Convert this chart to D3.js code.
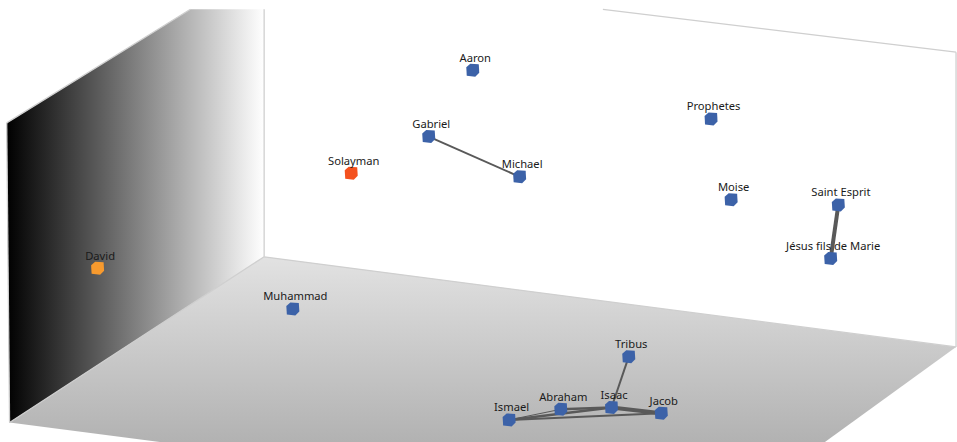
<!DOCTYPE html>
<html>
<head>
<meta charset="utf-8">
<script src="https://cdn.jsdelivr.net/npm/d3@7"></script>
<style>
  html, body { margin: 0; padding: 0; background: #fff; }
  svg { display: block; }
</style>
</head>
<body>
<div id="chart"></div>
<script>
const names = ['Aaron', 'Prophetes', 'Gabriel', 'Michael', 'Solayman', 'Moise', 'Saint Esprit', 'Jésus fils de Marie', 'David', 'Muhammad', 'Tribus', 'Isaac', 'Jacob', 'Abraham', 'Ismael'];
const posX = [49.4, 74.3, 44.8, 54.3, 36.7, 76.4, 87.6, 86.8, 10.2, 30.6, 65.7, 63.9, 69.1, 58.6, 53.2];
const posY = [15.9, 26.9, 30.9, 40.0, 39.2, 45.2, 46.4, 58.5, 60.7, 69.9, 80.7, 92.2, 93.5, 92.6, 95.0];
const nodeColors = ['#3c62a8', '#3c62a8', '#3c62a8', '#3c62a8', '#f4511e', '#3c62a8', '#3c62a8', '#3c62a8', '#f79a2e', '#3c62a8', '#3c62a8', '#3c62a8', '#3c62a8', '#3c62a8', '#3c62a8'];

const linkSource = ['Gabriel', 'Saint Esprit', 'Tribus', 'Isaac', 'Ismael', 'Ismael', 'Ismael', 'Abraham'];
const linkTarget = ['Michael', 'Jésus fils de Marie', 'Isaac', 'Jacob', 'Jacob', 'Abraham', 'Isaac', 'Isaac'];
const linkWeight = [2, 4, 2, 4, 2, 1, 2.5, 2.5];

// room corners, same percent units
const wallLeftX = [0.7, 19.9, 27.6, 27.6, 1.0];
const wallLeftY = [27.8, 2.1, 2.1, 58.1, 95.6];
const wallBackX = [27.6, 63.0, 99.9, 99.9, 27.6];
const wallBackY = [2.1, 2.1, 11.8, 78.5, 58.1];
const floorX = [27.6, 99.9, 86.2, 16.7, 1.0];
const floorY = [58.1, 78.5, 100, 100, 95.6];

const width = 957;
const height = 442;

const x = d3.scaleLinear().domain([0, 100]).range([0, width]);
const y = d3.scaleLinear().domain([0, 100]).range([0, height]);

const svg = d3.select('#chart')
  .append('svg')
  .attr('width', width)
  .attr('height', height);

const defs = svg.append('defs');

const leftGrad = defs.append('linearGradient')
  .attr('id', 'leftGrad')
  .attr('x1', 0).attr('y1', 0).attr('x2', 1).attr('y2', 0);
leftGrad.append('stop').attr('offset', '0%').attr('stop-color', '#000');
leftGrad.append('stop').attr('offset', '100%').attr('stop-color', '#fff');

const floorGrad = defs.append('linearGradient')
  .attr('id', 'floorGrad')
  .attr('x1', 0).attr('y1', 0).attr('x2', 0).attr('y2', 1);
floorGrad.append('stop').attr('offset', '0%').attr('stop-color', '#e2e2e2');
floorGrad.append('stop').attr('offset', '100%').attr('stop-color', '#b2b2b2');

const outline = d3.line().x(d => x(d[0])).y(d => y(d[1]));
const closed = (xs, ys) => outline(xs.map((v, i) => [v, ys[i]])) + 'Z';

// walls
svg.append('path')
  .attr('d', closed(wallBackX, wallBackY))
  .attr('fill', '#fff');
svg.append('path')
  .attr('d', closed(floorX, floorY))
  .attr('fill', 'url(#floorGrad)');
svg.append('path')
  .attr('d', closed(wallLeftX, wallLeftY))
  .attr('fill', 'url(#leftGrad)');

// grey room edges, the clipped top and bottom stay without a line
const edges = [
  [[wallLeftX[0], wallLeftY[0]], [wallLeftX[1], wallLeftY[1]]],
  [[wallLeftX[0], wallLeftY[0]], [wallLeftX[4], wallLeftY[4]]],
  [[wallBackX[0], wallBackY[0]], [wallBackX[4], wallBackY[4]]],
  [[wallBackX[1], wallBackY[1]], [wallBackX[2], wallBackY[2]]],
  [[wallBackX[2], wallBackY[2]], [wallBackX[3], wallBackY[3]]],
  [[floorX[0], floorY[0]], [floorX[1], floorY[1]]],
  [[floorX[0], floorY[0]], [floorX[4], floorY[4]]]
];
svg.append('g')
  .selectAll('path')
  .data(edges)
  .enter()
  .append('path')
  .attr('d', outline)
  .attr('fill', 'none')
  .attr('stroke', '#cfcfcf')
  .attr('stroke-width', 1.3);

const nodeIndex = new Map(names.map((n, i) => [n, i]));

// links
svg.append('g')
  .selectAll('line')
  .data(linkSource.map((s, i) => ({ s: nodeIndex.get(s), t: nodeIndex.get(linkTarget[i]), w: linkWeight[i] })))
  .enter()
  .append('line')
  .attr('x1', d => x(posX[d.s]))
  .attr('y1', d => y(posY[d.s]))
  .attr('x2', d => x(posX[d.t]))
  .attr('y2', d => y(posY[d.t]))
  .attr('stroke', '#595959')
  .attr('stroke-width', d => d.w);

// the 3D cube glyph, seen as a blocky outline
const cubeOutline = 'M-6.5,-3L-2.5,-6.5L6,-6L6.5,2.5L2.5,6.5L-6,5.5Z';

const nodes = svg.append('g')
  .selectAll('g')
  .data(names)
  .enter()
  .append('g')
  .attr('transform', (d, i) => `translate(${x(posX[i])},${y(posY[i])})`);

nodes.append('path')
  .attr('d', cubeOutline)
  .attr('fill', (d, i) => nodeColors[i]);

// labels sit above the node
nodes.append('text')
  .attr('x', 2.5)
  .attr('y', -8.6)
  .attr('text-anchor', 'middle')
  .style('font-family', '"Noto Sans", sans-serif')
  .style('font-size', '11.2px')
  .style('fill', '#1a1a1a')
  .text(d => d);
</script>
</body>
</html>
